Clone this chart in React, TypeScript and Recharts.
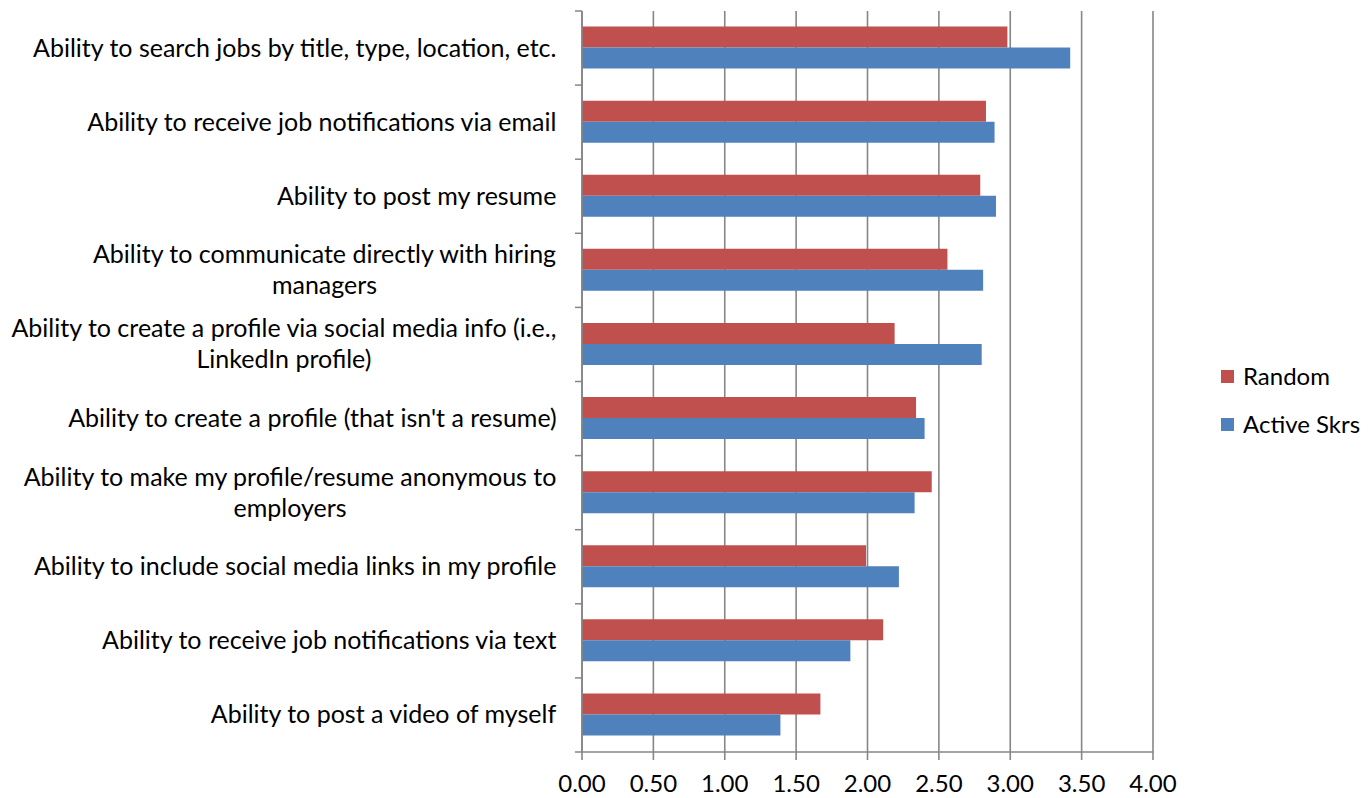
import { BarChart, Bar, XAxis, YAxis, CartesianGrid, Legend } from 'recharts';

const categories = [
  'Ability to search jobs by title, type, location, etc.',
  'Ability to receive job notifications via email',
  'Ability to post my resume',
  'Ability to communicate directly with hiring\nmanagers',
  'Ability to create a profile via social media info (i.e.,\nLinkedIn profile)',
  "Ability to create a profile (that isn't a resume)",
  'Ability to make my profile/resume anonymous to\nemployers',
  'Ability to include social media links in my profile',
  'Ability to receive job notifications via text',
  'Ability to post a video of myself',
];
const random = [2.98, 2.83, 2.79, 2.56, 2.19, 2.34, 2.45, 1.99, 2.11, 1.67];
const activeSkrs = [3.42, 2.89, 2.9, 2.81, 2.8, 2.4, 2.33, 2.22, 1.88, 1.39];
const xTicks = [0, 0.5, 1, 1.5, 2, 2.5, 3, 3.5, 4];
const legendOrder = ['Random', 'Active Skrs'];

const data = categories.map((name, i) => ({ name, random: random[i], active: activeSkrs[i] }));

const FONT = 'Lato, sans-serif';
const FONT_SIZE = 25;
const LINE_H = 31;
const AXIS = '#868686';
const TOP = 11;
const BOTTOM_AXIS = 46;
const HEIGHT = 798;
const BAND = (HEIGHT - TOP - BOTTOM_AXIS) / categories.length;
const TICK_SIZE = 7;
const TICK_MARGIN = 18;

let ctx: CanvasRenderingContext2D | null = null;
function textWidth(s: string) {
  if (!ctx) ctx = document.createElement('canvas').getContext('2d');
  if (!ctx) return s.length * 11;
  ctx.font = `${FONT_SIZE}px Lato`;
  return ctx.measureText(s).width;
}

// category labels: multi-line labels are centred as a block, right edge at the tick
function CategoryTick(props: any) {
  const { x, y, payload, index } = props;
  const lines = String(payload.value).split('\n');
  const w = Math.max(...lines.map(textWidth));
  const cx = x - w / 2;
  const axisX = x + TICK_SIZE + TICK_MARGIN;
  const half = BAND / 2;
  return (
    <g>
      <line x1={axisX - TICK_SIZE} x2={axisX} y1={y - half} y2={y - half} stroke={AXIS} strokeWidth={1.5} />
      {index === categories.length - 1 && (
        <line x1={axisX - TICK_SIZE} x2={axisX} y1={y + half} y2={y + half} stroke={AXIS} strokeWidth={1.5} />
      )}
      <text textAnchor="middle" fontFamily={FONT} fontSize={FONT_SIZE} fill="#000">
        {lines.map((l, i) => (
          <tspan key={i} x={cx} y={y + 8.5 + (i - (lines.length - 1) / 2) * LINE_H}>
            {l}
          </tspan>
        ))}
      </text>
    </g>
  );
}

function LegendBox(props: any) {
  const items = [...(props.payload ?? [])].sort(
    (a: any, b: any) => legendOrder.indexOf(a.value) - legendOrder.indexOf(b.value)
  );
  return (
    <div style={{ fontFamily: FONT, fontSize: 24, color: '#000' }}>
      {items.map((it: any) => (
        <div key={it.value} style={{ display: 'flex', alignItems: 'center', height: 24, lineHeight: '24px', marginBottom: 24 }}>
          <span style={{ width: 13, height: 13, background: it.color, marginRight: 9, display: 'inline-block' }} />
          <span>{it.value}</span>
        </div>
      ))}
    </div>
  );
}

export default function App() {
  return (
    <div style={{ position: 'absolute', left: 0, top: 0 }}>
      <BarChart
        width={1371}
        height={HEIGHT}
        data={data}
        layout="vertical"
        margin={{ top: TOP, right: 218, bottom: 0, left: 0 }}
        barCategoryGap="21%"
        barGap={0}
      >
        <CartesianGrid horizontal={false} stroke={AXIS} strokeWidth={1.6} />
        <XAxis
          type="number"
          domain={[0, 4]}
          ticks={xTicks}
          interval={0}
          height={BOTTOM_AXIS}
          tickFormatter={(v: number) => v.toFixed(2)}
          tickSize={8}
          tickMargin={15}
          tick={{ fill: '#000', fontFamily: FONT, fontSize: 24 }}
          axisLine={{ stroke: AXIS, strokeWidth: 1.6 }}
          tickLine={{ stroke: AXIS, strokeWidth: 1.6 }}
        />
        <YAxis
          type="category"
          dataKey="name"
          width={582}
          interval={0}
          tickSize={TICK_SIZE}
          tickMargin={TICK_MARGIN}
          tickLine={false}
          axisLine={{ stroke: AXIS, strokeWidth: 1.6 }}
          tick={<CategoryTick />}
        />
        <Legend
          layout="horizontal"
          align="center"
          verticalAlign="middle"
          wrapperStyle={{ left: 1221, top: 364, width: 150 }}
          content={<LegendBox />}
        />
        <Bar dataKey="random" name="Random" fill="#C0504D" isAnimationActive={false} />
        <Bar dataKey="active" name="Active Skrs" fill="#4F81BD" isAnimationActive={false} />
      </BarChart>
    </div>
  );
}
